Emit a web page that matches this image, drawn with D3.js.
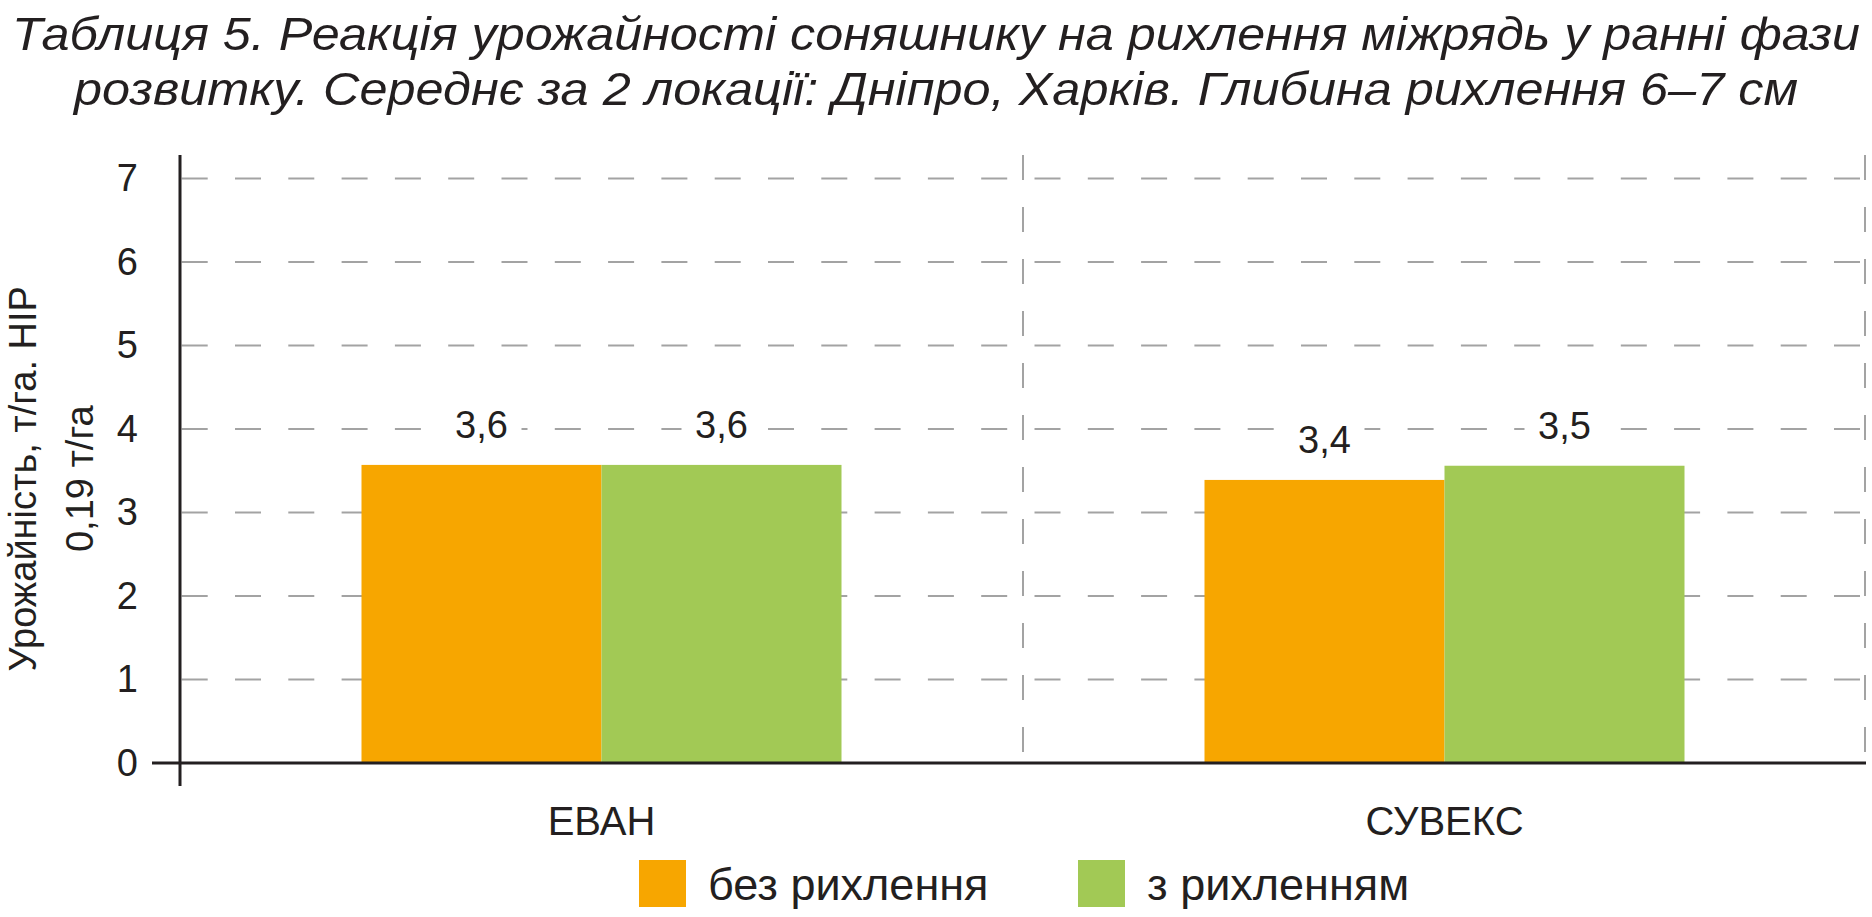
<!DOCTYPE html>
<html>
<head>
<meta charset="utf-8">
<script src="https://cdn.jsdelivr.net/npm/d3@7"></script>
<style>
    body { margin: 0; background: #fff; }
    text { font-family: "Liberation Sans", Arial, Helvetica, sans-serif; fill: #231f20; }
</style>
</head>
<body>
<div id="chart"></div>
<script>
// Data
const titleLines = [
    "Таблиця 5. Реакція урожайності соняшнику на рихлення міжрядь у ранні фази",
    "розвитку. Середнє за 2 локації: Дніпро, Харків. Глибина рихлення 6–7 см"
];
const yLabelLines = ["Урожайність, т/га. НІР", "0,19 т/га"];
const categories = ["ЕВАН", "СУВЕКС"];
const seriesNames = ["без рихлення", "з рихленням"];
const seriesColors = ["#f7a600", "#a2c955"];
const noLoosening = [3.57, 3.39];
const withLoosening = [3.57, 3.56];
const valueLabels = [["3,6", "3,6"], ["3,4", "3,5"]];
const yTicks = [0, 1, 2, 3, 4, 5, 6, 7];

const width = 1872, height = 917;
const margin = { top: 178.5, right: 6, bottom: 154, left: 180 };

const svg = d3.select("#chart")
    .append("svg")
    .attr("width", width)
    .attr("height", height);

// Title
svg.append("g")
    .selectAll("text")
    .data(titleLines)
    .join("text")
    .attr("x", width / 2)
    .attr("y", (d, i) => 50 + i * 55)
    .attr("text-anchor", "middle")
    .attr("font-size", 46)
    .attr("font-style", "italic")
    .attr("textLength", (d, i) => i === 0 ? 1848 : 1724)
    .attr("lengthAdjust", "spacingAndGlyphs")
    .text(d => d);

// Scales
const x0 = d3.scaleBand()
    .domain(categories)
    .range([margin.left, width - margin.right])
    .paddingInner(0.4306)
    .paddingOuter(0.2153);

const x1 = d3.scaleBand()
    .domain(seriesNames)
    .range([0, x0.bandwidth()]);

const y = d3.scaleLinear()
    .domain([0, 7])
    .range([height - margin.bottom, margin.top]);

const baseY = y(0);
const topY = 155;
const rightX = width - margin.right;

// Horizontal dashed gridlines
svg.append("g")
    .selectAll("line")
    .data(yTicks.filter(d => d > 0))
    .join("line")
    .attr("x1", margin.left + 1.7)
    .attr("x2", rightX)
    .attr("y1", d => y(d))
    .attr("y2", d => y(d))
    .attr("stroke", "#a3a3a3")
    .attr("stroke-width", 2)
    .attr("stroke-dasharray", "26,27.3");

// Vertical dashed separators between groups and at the right edge
const separators = categories.map(c => x0(c) + x0.bandwidth() + x0.step() * x0.paddingInner() / 2);
svg.append("g")
    .selectAll("line")
    .data(separators)
    .join("line")
    .attr("x1", d => Math.min(d, rightX - 1))
    .attr("x2", d => Math.min(d, rightX - 1))
    .attr("y1", topY)
    .attr("y2", baseY)
    .attr("stroke", "#a3a3a3")
    .attr("stroke-width", 2)
    .attr("stroke-dasharray", "25,27");

// Bars
const rows = categories.map((c, i) => ({
    category: c,
    values: [noLoosening[i], withLoosening[i]],
    labels: valueLabels[i]
}));

const groups = svg.append("g")
    .selectAll("g")
    .data(rows)
    .join("g")
    .attr("transform", d => `translate(${x0(d.category)},0)`);

groups.selectAll("rect")
    .data(d => d.values.map((v, j) => ({ key: seriesNames[j], value: v, j })))
    .join("rect")
    .attr("x", d => x1(d.key))
    .attr("y", d => y(d.value))
    .attr("width", x1.bandwidth())
    .attr("height", d => baseY - y(d.value))
    .attr("fill", d => seriesColors[d.j]);

// Value labels on a white box that hides the gridline behind them
const labels = groups.selectAll("g.value-label")
    .data(d => d.values.map((v, j) => ({ key: seriesNames[j], value: v, label: d.labels[j] })))
    .join("g")
    .attr("class", "value-label")
    .attr("transform", d => `translate(${x1(d.key) + x1.bandwidth() / 2},${y(d.value) - 27})`);

labels.append("rect")
    .attr("x", -40)
    .attr("y", -34)
    .attr("width", 80)
    .attr("height", 40)
    .attr("fill", "#fff");

labels.append("text")
    .attr("text-anchor", "middle")
    .attr("font-size", 38)
    .text(d => d.label);

// Y axis tick labels
const yAxis = d3.axisLeft(y)
    .tickValues(yTicks)
    .tickSize(0)
    .tickPadding(42)
    .tickFormat(d3.format("d"));

svg.append("g")
    .attr("transform", `translate(${margin.left},0)`)
    .call(yAxis)
    .call(g => g.select(".domain").remove())
    .call(g => g.selectAll("text")
        .attr("font-family", null)
        .attr("font-size", 38)
        .attr("fill", "#231f20"));

// Axis lines
svg.append("line")
    .attr("x1", margin.left)
    .attr("x2", margin.left)
    .attr("y1", topY)
    .attr("y2", baseY + 23)
    .attr("stroke", "#231f20")
    .attr("stroke-width", 3);

svg.append("line")
    .attr("x1", margin.left - 28)
    .attr("x2", rightX)
    .attr("y1", baseY)
    .attr("y2", baseY)
    .attr("stroke", "#231f20")
    .attr("stroke-width", 3);

// Category labels
svg.append("g")
    .selectAll("text")
    .data(categories)
    .join("text")
    .attr("x", d => x0(d) + x0.bandwidth() / 2)
    .attr("y", baseY + 72)
    .attr("text-anchor", "middle")
    .attr("font-size", 40)
    .text(d => d);

// Y axis title (two rotated lines)
svg.append("g")
    .selectAll("text")
    .data(yLabelLines)
    .join("text")
    .attr("transform", (d, i) => `translate(${36 + i * 57},${(y(0) + y(7)) / 2 + 8}) rotate(-90)`)
    .attr("text-anchor", "middle")
    .attr("font-size", 38)
    .text(d => d);

// Legend
const legendX = [639, 1078];
const legend = svg.append("g")
    .selectAll("g")
    .data(seriesNames)
    .join("g")
    .attr("transform", (d, i) => `translate(${legendX[i]},860)`);

legend.append("rect")
    .attr("width", 47)
    .attr("height", 47)
    .attr("fill", (d, i) => seriesColors[i]);

legend.append("text")
    .attr("x", 69)
    .attr("y", 40)
    .attr("font-size", 45)
    .text(d => d);
</script>
</body>
</html>
